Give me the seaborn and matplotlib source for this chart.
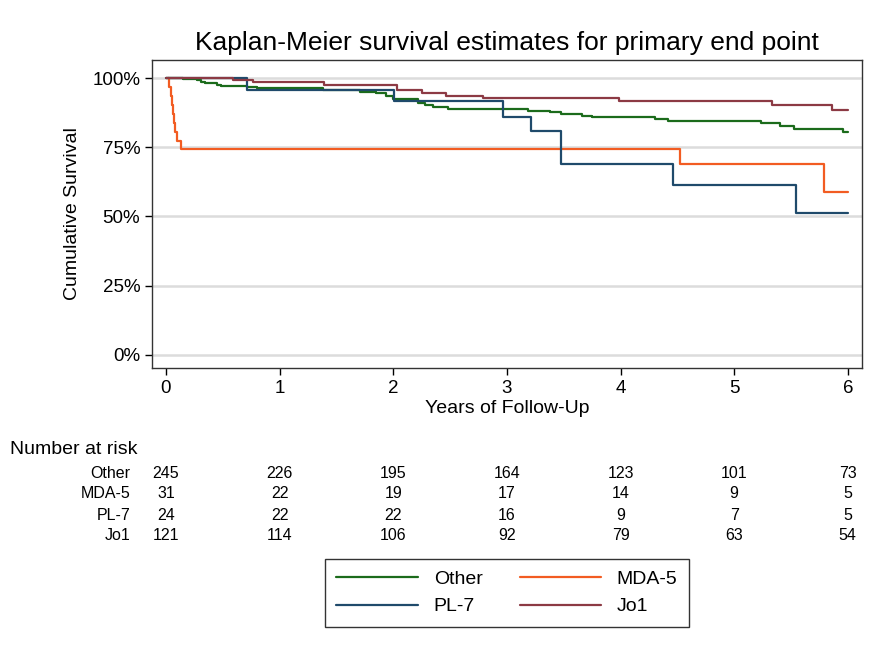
import pandas as pd
import matplotlib
matplotlib.use("Agg")
import matplotlib.pyplot as plt
import matplotlib.transforms as mtransforms
import seaborn as sns

# step points: years, survival (%)
other_t = [0, 0.15, 0.27, 0.31, 0.34, 0.45, 0.48, 0.71, 0.80, 1.38, 1.71, 1.85, 1.94, 2.00,
           2.22, 2.28, 2.35, 2.48, 3.19, 3.38, 3.48, 3.66, 3.75, 4.30, 4.42, 5.24, 5.40,
           5.53, 5.96, 6.0]
other_s = [100, 99.6, 99.2, 98.7, 98.1, 97.5, 97.1, 96.6, 96.3, 95.7, 95.1, 94.5, 93.5, 92.3,
           91.0, 90.3, 89.4, 88.8, 88.2, 87.6, 86.9, 86.4, 85.8, 85.1, 84.5, 83.6, 82.7,
           81.6, 80.6, 80.6]
mda5_t = [0.02, 0.03, 0.04, 0.05, 0.06, 0.07, 0.08, 0.10, 0.13, 4.52, 5.79, 6.0]
mda5_s = [100, 96.8, 93.5, 90.3, 87.1, 83.9, 80.6, 77.4, 74.2, 68.9, 59.0, 59.0]
pl7_t = [0, 0.71, 2.01, 2.97, 3.21, 3.48, 4.46, 5.54, 6.0]
pl7_s = [100, 95.8, 91.7, 86.0, 80.9, 69.0, 61.4, 51.2, 51.2]
jo1_t = [0, 0.59, 0.77, 1.39, 2.03, 2.25, 2.46, 2.79, 3.99, 5.33, 5.86, 6.0]
jo1_s = [100, 99.2, 98.4, 97.5, 95.7, 94.5, 93.6, 92.7, 91.6, 90.3, 88.4, 88.4]

groups = ["Other", "MDA-5", "PL-7", "Jo1"]
colors = ["#1b6b1b", "#f25c22", "#1f4a6b", "#8c3a44"]

risk_times = [0, 1, 2, 3, 4, 5, 6]
risk_other = [245, 226, 195, 164, 123, 101, 73]
risk_mda5 = [31, 22, 19, 17, 14, 9, 5]
risk_pl7 = [24, 22, 22, 16, 9, 7, 5]
risk_jo1 = [121, 114, 106, 92, 79, 63, 54]

frames = []
for g, t, s in zip(groups, [other_t, mda5_t, pl7_t, jo1_t], [other_s, mda5_s, pl7_s, jo1_s]):
    frames.append(pd.DataFrame({"group": g, "time": t, "surv": s}))
df = pd.concat(frames, ignore_index=True)

sns.set_style("white")
plt.rcParams["font.family"] = ["Liberation Sans", "DejaVu Sans"]
plt.rcParams.update({"text.color": "black", "axes.labelcolor": "black",
                     "xtick.color": "black", "ytick.color": "black"})

fig = plt.figure(figsize=(8.88, 6.63), dpi=100)
ax = fig.add_axes([152 / 888, 1 - 368 / 663, 710 / 888, 308 / 663])

for y in [0, 25, 50, 75, 100]:
    ax.axhline(y, color="#dcdcdc", lw=1.8, zorder=0)

sns.lineplot(data=df, x="time", y="surv", hue="group", hue_order=groups,
             palette=colors, estimator=None, sort=False, drawstyle="steps-post",
             lw=1.6, ax=ax, legend=False)

ax.set_xlim(-0.123, 6.125)
ax.set_ylim(-4.7, 106.5)
ax.set_xticks(risk_times)
ax.set_yticks([0, 25, 50, 75, 100])
ax.set_yticklabels(["0%", "25%", "50%", "75%", "100%"])
ax.tick_params(axis="both", direction="out", length=5, width=1, color="black",
               labelsize=13.5, left=True, bottom=True)
for sp in ax.spines.values():
    sp.set_color("#333333")
    sp.set_linewidth(1)
ax.set_xlabel("Years of Follow-Up", fontsize=14, labelpad=2)
ax.set_ylabel("Cumulative Survival", fontsize=14, labelpad=8)
ax.set_title("Kaplan-Meier survival estimates for primary end point", fontsize=19, pad=7)

# number at risk table
trans = mtransforms.blended_transform_factory(ax.transData, fig.transFigure)
fig.text(10 / 888, 1 - 449 / 663, "Number at risk", fontsize=14, va="center", ha="left")
rows = [risk_other, risk_mda5, risk_pl7, risk_jo1]
row_y = [473, 494, 515, 536]
for g, vals, py in zip(groups, rows, row_y):
    fig.text(130 / 888, 1 - py / 663, g, fontsize=11.5, ha="right", va="center")
    for t, v in zip(risk_times, vals):
        ax.text(t, 1 - py / 663, str(v), transform=trans, fontsize=11.5,
                ha="center", va="center", clip_on=False)

# legend fills by column, so order gives rows Other/MDA-5 and PL-7/Jo1
handles = [plt.Line2D([], [], color=c, lw=1.6) for c in colors]
order = [0, 2, 1, 3]
leg = fig.legend([handles[i] for i in order], [groups[i] for i in order], ncol=2,
                 loc="center", bbox_to_anchor=(507 / 888, 1 - 593 / 663), fontsize=14,
                 frameon=True, fancybox=False, handlelength=4.2, columnspacing=1.9,
                 handletextpad=0.8, borderpad=0.6, labelspacing=0.5)
leg.get_frame().set_edgecolor("black")
leg.get_frame().set_linewidth(1)

fig.savefig("out.png", dpi=100)
